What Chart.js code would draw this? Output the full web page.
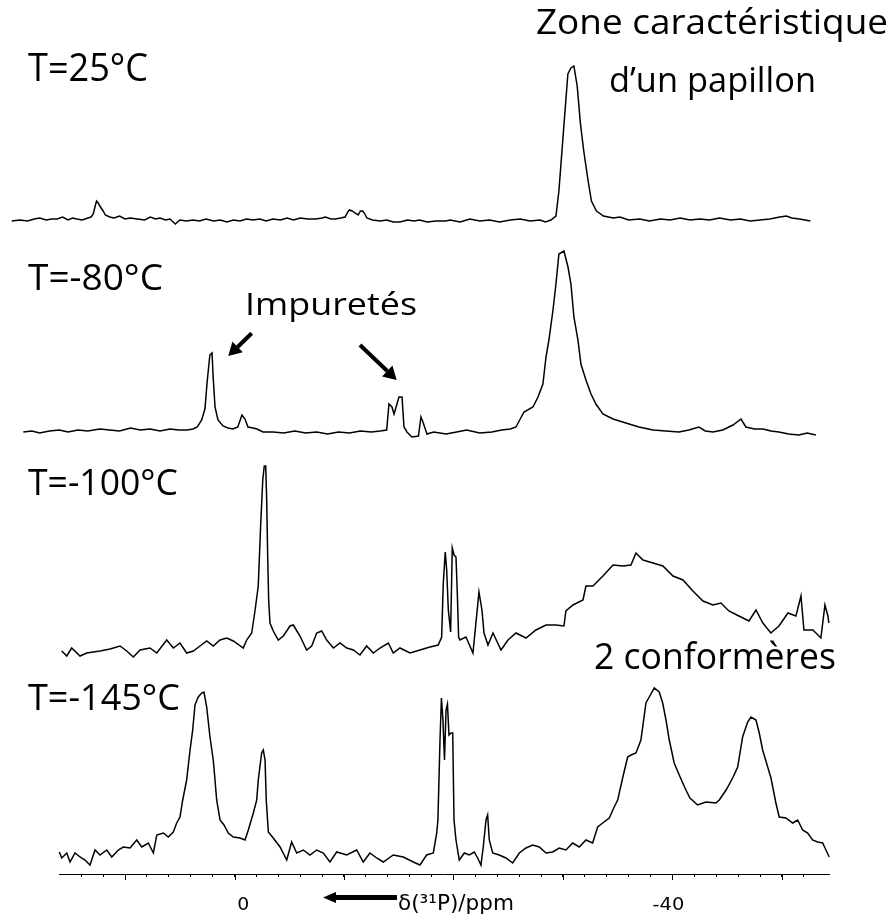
<!DOCTYPE html>
<html lang="fr">
<head>
<meta charset="utf-8">
<title>RMN 31P - spectres en température</title>
<script src="https://cdn.jsdelivr.net/npm/chart.js@4.4.1/dist/chart.umd.min.js"></script>
<style>
  html, body { margin: 0; padding: 0; background: #fff; }
  canvas { display: block; }
</style>
</head>
<body>
<canvas id="spectres" width="892" height="920"></canvas>
<script>
// ---------------- DONNÉES ----------------
// déplacement chimique en ppm, intensité relative à la ligne de base de chaque spectre

const temperatures = ["T=25°C", "T=-80°C", "T=-100°C", "T=-145°C"];

// décalage vertical de chaque spectre
const offsets = [653, 442, 221, 14];

const ppm25 = [20.35, 19.6, 18.9, 18.3, 17.8, 17.2, 16.7, 16.2, 15.7, 15.2, 14.8, 14.4, 13.9, 13.4, 13.1, 12.9, 12.75, 12.6, 12.45, 12.3, 12.0, 11.8, 11.4, 11.0, 10.5, 10.0, 9.5, 8.9, 8.2, 7.7, 7.2, 6.8, 6.3, 5.9, 5.4, 5.0, 4.4, 3.8, 3.2, 2.6, 1.9, 1.3, 0.7, 0.1, -0.5, -1.1, -1.7, -2.3, -2.9, -3.5, -4.2, -4.8, -5.4, -6.0, -6.7, -7.4, -8.0, -8.3, -8.8, -9.2, -9.7, -10.1, -10.35, -10.5, -10.75, -11.0, -11.3, -11.5, -11.7, -11.85, -12.1, -12.6, -13.3, -13.9, -14.5, -15.1, -15.8, -16.4, -16.9, -17.6, -18.4, -19.3, -19.7, -20.6, -21.5, -22.4, -23.3, -24.2, -25.2, -26.1, -27.0, -27.9, -28.4, -28.9, -29.36, -29.63, -30.0, -30.45, -30.73, -31.0, -31.3, -31.6, -31.9, -32.3, -32.6, -33.06, -33.7, -34.6, -35.2, -36.0, -37.0, -37.9, -38.9, -39.8, -40.7, -41.6, -42.5, -43.4, -44.3, -45.3, -46.2, -47.1, -48.0, -48.9, -49.8, -50.4, -50.9, -51.6, -52.6];
const int25 = [0, 1, 0, 2, 3, 1, 2, 2, 4, 1, 3, 2, 1, 3, 4, 7, 14, 20, 18, 15, 10, 6, 4, 3, 5, 2, 3, 2, 1, 4, 2, 3, 1, 2, -3, 1, 0, 1, 0, 2, 0, 1, -1, 1, 0, 2, 1, 2, 0, 2, 1, 3, 1, 3, 2, 2, 3, 4, 2, 2, 3, 4, 9, 11, 10, 8, 6, 10, 10, 8, 3, 1, 0, 1, -1, -1, 1, 0, 1, -1, 0, 0, 1, -1, 2, 0, 1, -1, 1, 2, 0, 1, -1, 1, 5, 30, 83, 147, 153, 155, 135, 97, 70, 40, 20, 10, 5, 3, 4, 1, 2, 0, 2, 1, 3, 1, 2, 1, 3, 1, 2, 0, 1, 2, 4, 5, 3, 2, 0];

const ppm80 = [19.29, 18.5, 17.8, 16.9, 16.0, 15.2, 14.3, 13.4, 12.3, 11.4, 10.5, 9.5, 8.6, 7.7, 6.8, 5.9, 5.1, 4.3, 3.8, 3.4, 3.0, 2.7, 2.5, 2.25, 2.05, 1.96, 1.78, 1.51, 1.05, 0.6, 0.14, -0.3, -0.68, -0.96, -1.23, -1.7, -2.05, -2.6, -3.5, -4.5, -5.5, -6.5, -7.5, -8.5, -9.5, -10.5, -11.5, -12.5, -13.3, -13.9, -14.11, -14.38, -14.57, -14.84, -15.02, -15.3, -15.48, -15.75, -16.2, -16.8, -17.03, -17.21, -17.58, -18.2, -19.32, -20.3, -21.2, -22.4, -23.5, -24.4, -25.2, -25.71, -26.44, -27.26, -27.72, -28.17, -28.45, -28.72, -29.09, -29.36, -29.63, -30.09, -30.46, -30.73, -31.0, -31.37, -31.64, -32.1, -32.56, -33.01, -33.65, -34.57, -35.75, -36.94, -38.22, -39.4, -40.6, -41.5, -42.42, -43.0, -43.7, -44.6, -45.53, -46.26, -46.71, -47.5, -48.26, -49.0, -49.73, -50.6, -51.55, -52.3, -53.1];
const int80 = [0, 1, -1, 1, 2, 0, 2, 1, 3, 2, 1, 4, 2, 3, 1, 3, 2, 2, 3, 5, 12, 23, 50, 77, 79, 57, 25, 12, 6, 4, 3, 5, 17, 13, 5, 4, 3, 0, 0, -1, 1, -1, 0, -2, 0, -1, 1, 0, 1, 2, 28, 25, 18, 28, 35, 35, 5, 0, -5, -4, 15, 10, -2, 0, -2, 0, 2, -1, 0, 2, 3, 5, 20, 25, 35, 48, 75, 92, 122, 148, 178, 181, 165, 148, 115, 92, 68, 52, 38, 28, 18, 13, 9, 5, 2, 1, 0, 2, 5, 1, 0, 2, 7, 13, 5, 3, 3, 1, 0, -2, -3, -1, -3];

const ppm100 = [15.78, 15.32, 14.87, 14.11, 13.5, 12.28, 11.37, 10.46, 9.84, 9.24, 8.63, 7.72, 7.1, 6.19, 5.59, 4.98, 4.37, 3.76, 3.15, 2.54, 1.94, 1.32, 0.71, 0.11, -0.8, -1.11, -1.57, -1.87, -2.17, -2.39, -2.58, -2.72, -2.85, -2.94, -3.03, -3.12, -3.24, -3.54, -4.0, -4.46, -5.07, -5.37, -5.98, -6.59, -7.05, -7.51, -7.96, -8.42, -9.03, -9.64, -10.25, -10.86, -11.46, -12.07, -12.68, -13.29, -14.05, -14.5, -15.11, -16.03, -16.94, -17.85, -18.61, -18.92, -19.07, -19.25, -19.38, -19.53, -19.74, -19.89, -20.05, -20.23, -20.35, -20.47, -20.59, -21.14, -21.78, -22.05, -22.33, -22.6, -22.79, -23.15, -23.61, -24.34, -24.98, -25.71, -26.62, -27.53, -28.45, -29.36, -30.09, -30.27, -30.91, -31.83, -32.1, -32.74, -33.65, -34.57, -35.48, -36.21, -36.67, -37.31, -38.22, -39.13, -40.05, -40.96, -41.87, -42.79, -43.7, -44.43, -45.16, -46.07, -46.99, -47.63, -48.26, -48.99, -49.73, -50.55, -51.28, -51.74, -52.01, -52.83, -53.56, -53.93, -54.2, -54.29];
const int100 = [2, -3, 5, -3, 0, 2, 4, 7, 2, -4, 3, 5, 0, 13, 5, 10, 0, 2, 7, 12, 7, 13, 15, 12, 5, 13, 20, 42, 67, 128, 173, 187, 187, 153, 97, 53, 30, 22, 13, 17, 27, 28, 17, 3, 7, 20, 22, 13, 5, 10, 5, 3, -2, 7, 0, 5, 10, 0, 5, 0, 3, 6, 8, 16, 70, 101, 83, 43, 21, 105, 98, 96, 60, 16, 13, 16, 0, 30, 61, 43, 20, 8, 20, 3, 13, 20, 15, 23, 28, 28, 27, 42, 48, 53, 67, 67, 77, 88, 87, 88, 100, 93, 90, 87, 77, 73, 62, 52, 48, 50, 42, 37, 32, 43, 30, 20, 27, 40, 37, 57, 23, 23, 15, 48, 37, 30];

const ppm145 = [16.0, 15.78, 15.32, 15.02, 14.57, 14.11, 13.65, 13.2, 12.74, 12.28, 11.67, 11.21, 10.61, 10.16, 9.54, 8.93, 8.47, 7.87, 7.41, 7.1, 6.5, 6.05, 5.59, 5.28, 4.98, 4.73, 4.37, 4.06, 3.82, 3.61, 3.31, 3.0, 2.79, 2.54, 2.24, 1.94, 1.78, 1.63, 1.32, 0.96, 0.57, 0.11, -0.5, -0.96, -1.26, -1.72, -2.03, -2.17, -2.48, -2.63, -2.79, -2.9, -3.09, -3.54, -4.16, -4.77, -5.22, -5.68, -6.28, -6.89, -7.51, -8.11, -8.72, -9.33, -10.25, -11.16, -11.76, -12.37, -12.99, -13.59, -14.5, -15.42, -16.33, -16.94, -17.55, -18.16, -18.47, -18.58, -18.77, -18.9, -19.04, -19.18, -19.32, -19.45, -19.59, -19.77, -19.93, -20.05, -20.23, -20.53, -20.99, -21.44, -21.9, -22.21, -22.51, -22.72, -22.97, -23.12, -23.27, -23.58, -24.18, -24.79, -25.41, -26.01, -26.62, -27.23, -27.84, -28.45, -29.06, -29.66, -30.27, -30.89, -31.49, -32.1, -32.71, -33.17, -33.63, -34.23, -34.68, -35.0, -35.45, -35.91, -36.21, -36.67, -37.12, -37.58, -37.88, -38.34, -38.79, -39.11, -39.41, -39.71, -40.16, -40.62, -41.23, -41.6, -42.3, -43.06, -43.97, -44.28, -44.9, -45.5, -45.96, -46.41, -46.87, -47.17, -47.63, -47.93, -48.24, -48.7, -49.0, -49.45, -49.75, -50.37, -50.98, -51.44, -51.89, -52.35, -52.8, -53.26, -53.72, -54.02, -54.32];
const int145 = [8, 2, 7, -2, 7, 3, 0, -5, 10, 5, 10, 3, 10, 13, 12, 20, 13, 17, 7, 25, 27, 23, 28, 37, 43, 60, 80, 110, 130, 155, 163, 167, 168, 153, 123, 100, 80, 60, 40, 35, 27, 23, 22, 20, 30, 47, 60, 80, 107, 110, 100, 60, 28, 22, 13, 0, 18, 7, 10, 5, 10, 7, -2, 8, 5, 10, -2, 7, 2, -2, 5, 3, -2, -5, 5, 7, 27, 40, 120, 162, 140, 100, 150, 156, 125, 127, 127, 40, 20, 0, 7, 5, 8, 2, -5, 13, 40, 45, 20, 7, 5, 2, -3, 7, 12, 15, 13, 7, 8, 12, 10, 17, 13, 20, 17, 33, 37, 42, 53, 60, 82, 103, 105, 107, 120, 157, 163, 172, 168, 157, 140, 120, 97, 85, 70, 62, 55, 58, 57, 60, 70, 82, 93, 123, 138, 143, 140, 127, 110, 93, 82, 57, 43, 42, 37, 40, 30, 27, 20, 18, 17, 10, 3];

// axe des x
const axeMin = -54.3;
const axeMax = 16.03;
const majorTicks = [10, 0, -10, -20, -30, -40, -50];
const tickLabelValues = [0, -40];
const tickLabelTexts = ["0", "-40"];

// ---------------- ANNOTATIONS ----------------
const textes = [
    { text: temperatures[0], x: 28, y: 81, w: 120, size: 38 },
    { text: temperatures[1], x: 28, y: 290, w: 135, size: 37 },
    { text: temperatures[2], x: 28, y: 495, w: 150, size: 37 },
    { text: temperatures[3], x: 28, y: 710, w: 152, size: 37 },
    { text: "Zone caractéristique", x: 536, y: 34, w: 352, size: 35 },
    { text: "d’un papillon", x: 609, y: 92, w: 207, size: 35 },
    { text: "Impuretés", x: 245, y: 315, w: 172, size: 31 },
    { text: "2 conformères", x: 594, y: 669, w: 242, size: 36 },
];

// flèches "Impuretés" en coordonnées (ppm, intensité)
const flechesImpuretes = [
    { from: [-1.57, 540.7], to: [0.57, 518] },
    { from: [-11.46, 529], to: [-14.81, 494] },
];

function dessinerTexte(ctx, t, famille) {
    ctx.font = `${t.size}px ${famille}`;
    const largeur = ctx.measureText(t.text).width;
    ctx.save();
    ctx.translate(t.x, t.y);
    ctx.scale(t.w / largeur, 1);
    ctx.fillText(t.text, 0, 0);
    ctx.restore();
}

function dessinerFleche(ctx, x1, y1, x2, y2, epaisseur, tete, demiLargeur) {
    const ang = Math.atan2(y2 - y1, x2 - x1);
    const bx = x2 - tete * Math.cos(ang);
    const by = y2 - tete * Math.sin(ang);
    ctx.lineWidth = epaisseur;
    ctx.beginPath();
    ctx.moveTo(x1, y1);
    ctx.lineTo(bx, by);
    ctx.stroke();
    ctx.beginPath();
    ctx.moveTo(x2, y2);
    ctx.lineTo(bx + demiLargeur * Math.sin(ang), by - demiLargeur * Math.cos(ang));
    ctx.lineTo(bx - demiLargeur * Math.sin(ang), by + demiLargeur * Math.cos(ang));
    ctx.closePath();
    ctx.fill();
}

const pluginAnnotations = {
    id: "annotations",
    afterDraw(chart) {
        const { ctx, chartArea } = chart;
        const x = chart.scales.x;
        const y = chart.scales.y;
        const bas = chartArea.bottom;

        ctx.save();
        ctx.strokeStyle = "#000";
        ctx.fillStyle = "#000";
        ctx.lineWidth = 1;

        // graduations principales plus longues
        for (const v of majorTicks) {
            const px = Math.round(x.getPixelForValue(v)) + 0.5;
            ctx.beginPath();
            ctx.moveTo(px, bas);
            ctx.lineTo(px, bas + 6);
            ctx.stroke();
        }

        // étiquettes de l'axe
        const decalages = [8.8, -4];
        const largeurs = [12, 31.7];
        ctx.textBaseline = "alphabetic";
        ctx.textAlign = "left";
        tickLabelValues.forEach((v, i) => {
            const cx = x.getPixelForValue(v) + decalages[i];
            dessinerTexte(ctx, { text: tickLabelTexts[i], x: cx - largeurs[i] / 2, y: bas + 36, w: largeurs[i], size: 17 }, '"DejaVu Sans"');
        });

        // titre de l'axe + flèche
        dessinerTexte(ctx, { text: "δ(³¹P)/ppm", x: 398, y: bas + 36, w: 116, size: 22 }, '"DejaVu Sans"');
        ctx.lineCap = "butt";
        dessinerFleche(ctx, 397, bas + 23.5, 323, bas + 23.5, 5, 13, 5.5);

        // textes
        for (const t of textes) dessinerTexte(ctx, t, '"Open Sans"');

        // flèches vers les impuretés
        for (const f of flechesImpuretes) {
            dessinerFleche(ctx,
                x.getPixelForValue(f.from[0]), y.getPixelForValue(f.from[1]),
                x.getPixelForValue(f.to[0]), y.getPixelForValue(f.to[1]),
                4, 13, 7.5);
        }
        ctx.restore();
    },
};

// ---------------- GRAPHIQUE ----------------
const spectres = [
    [ppm25, int25],
    [ppm80, int80],
    [ppm100, int100],
    [ppm145, int145],
];

const datasets = spectres.map(([ppm, inten], i) => ({
    label: temperatures[i],
    data: ppm.map((p, k) => ({ x: p, y: inten[k] + offsets[i] })),
    borderColor: "#000",
    borderWidth: 1.5,
    pointRadius: 0,
    tension: 0,
    fill: false,
    clip: false,
}));

new Chart(document.getElementById("spectres"), {
    type: "line",
    data: { datasets },
    options: {
        responsive: false,
        animation: false,
        devicePixelRatio: 1,
        layout: { padding: { left: 59, right: 63, top: 0, bottom: 43 } },
        plugins: {
            legend: { display: false },
            tooltip: { enabled: false },
        },
        scales: {
            x: {
                type: "linear",
                reverse: true,
                min: axeMin,
                max: axeMax,
                afterBuildTicks: (axis) => {
                    axis.ticks = axis.ticks.filter(
                        (t) => Number.isInteger(t.value) && t.value % 2 === 0
                    );
                },
                ticks: { display: false, stepSize: 2 },
                grid: {
                    drawOnChartArea: false,
                    drawTicks: true,
                    tickLength: 3,
                    tickColor: "#000",
                    color: "#000",
                },
                border: { display: true, color: "#000", width: 1 },
            },
            y: {
                display: false,
                min: 0,
                max: 874,
            },
        },
    },
    plugins: [pluginAnnotations],
});
</script>
</body>
</html>
